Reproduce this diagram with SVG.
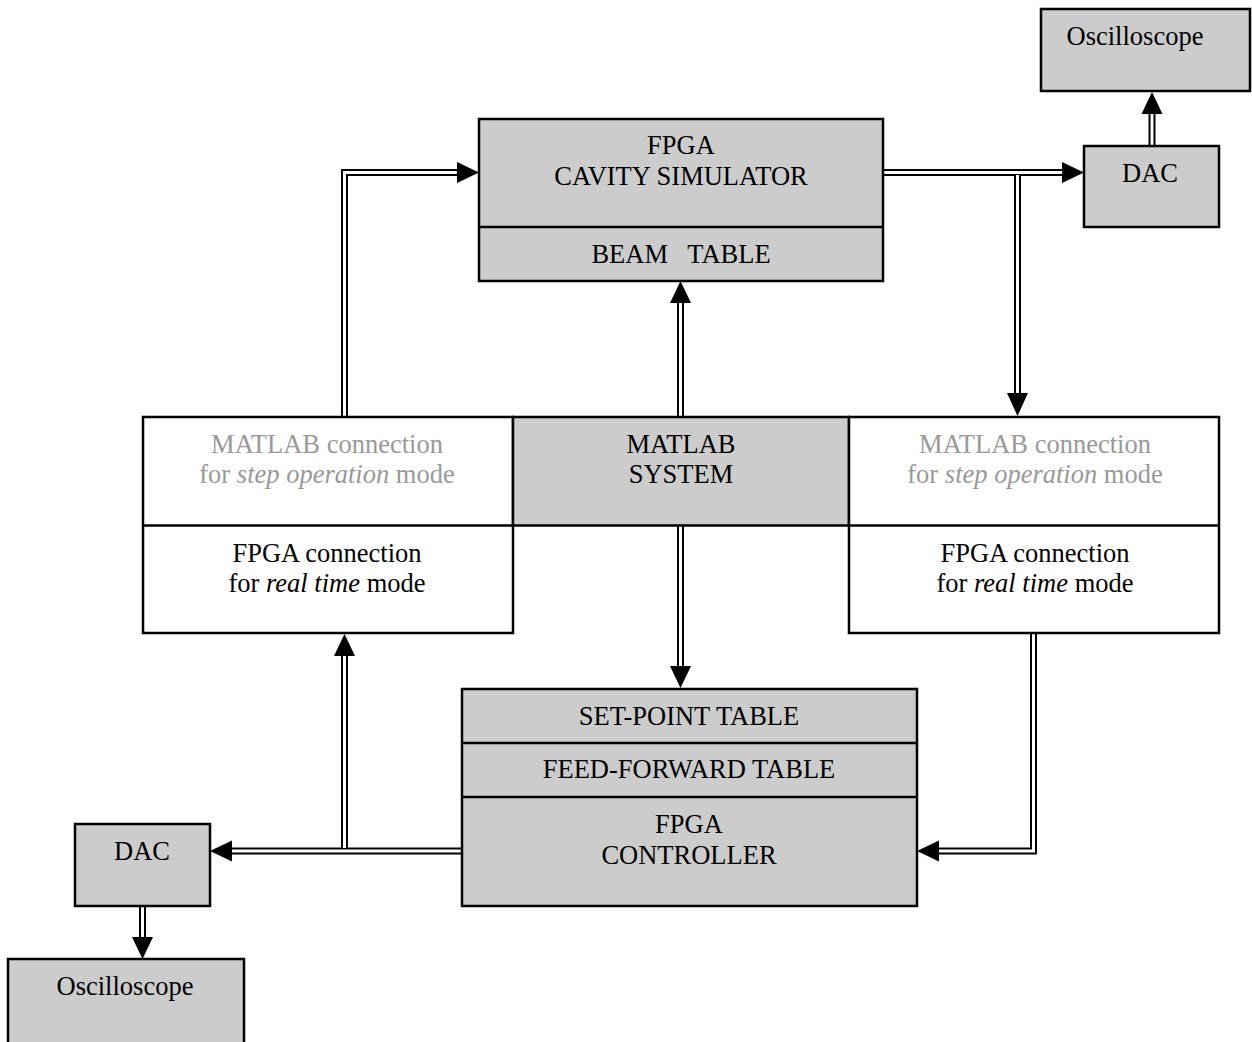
<svg xmlns="http://www.w3.org/2000/svg" width="1252" height="1042" viewBox="0 0 1252 1042">
<defs>
<style>
.box{stroke:#000;stroke-width:2.5}
.g{fill:#cccccc}
.w{fill:#ffffff}
.div{stroke:#000;stroke-width:2.5}
text{font-family:"Liberation Serif","Times New Roman",serif;font-size:26.5px;fill:#000;text-anchor:middle}
.grey{fill:#999999}
.outer{fill:none;stroke:#000;stroke-width:7;stroke-linejoin:miter}
.inner{fill:none;stroke:#fff;stroke-width:3;stroke-linejoin:miter}
.ah{fill:#000}
</style>
</defs>
<rect width="1252" height="1042" fill="#fff"/>

<g id="connectors">
<g id="c-left-up">
<path class="outer" d="M344.5,417 V172.5 H458"/>
</g>
<path class="outer" d="M883,172.5 H1063"/>
<path class="outer" d="M1017.5,175 V394"/>
<path class="outer" d="M680.5,417 V302"/>
<path class="outer" d="M680.5,525 V667"/>
<path class="outer" d="M1033.5,634 V851 H939"/>
<path class="outer" d="M462,851 H232"/>
<path class="outer" d="M344.5,848 V656"/>
<path class="outer" d="M142.5,906 V938"/>
<path class="outer" d="M1152,146 V114"/>

<path class="inner" d="M344.5,419 V172.5 H458"/>
<path class="inner" d="M884,172.5 H1063"/>
<path class="inner" d="M1017.5,175 V394"/>
<path class="inner" d="M680.5,416 V302"/>
<path class="inner" d="M680.5,526 V667"/>
<path class="inner" d="M1033.5,633 V851 H939"/>
<path class="inner" d="M461,851 H232"/>
<path class="inner" d="M344.5,848 V656"/>
<path class="inner" d="M142.5,907 V938"/>
<path class="inner" d="M1152,145 V114"/>

<polygon class="ah" points="479,172.5 457,162 457,183"/>
<polygon class="ah" points="1084,172.5 1062,162 1062,183"/>
<polygon class="ah" points="1017.5,416 1007,393 1028,393"/>
<polygon class="ah" points="680.5,281 670,303 691,303"/>
<polygon class="ah" points="680.5,688 670,666 691,666"/>
<polygon class="ah" points="917,851 939,840.5 939,861.5"/>
<polygon class="ah" points="210,851 232,840.5 232,861.5"/>
<polygon class="ah" points="344.5,634 334,656 355,656"/>
<polygon class="ah" points="142.5,959 132,937 153,937"/>
<polygon class="ah" points="1152,92 1141.5,114 1162.5,114"/>
</g>

<g id="cavity-simulator">
<rect class="box g" x="479" y="119" width="404" height="162"/>
<line class="div" x1="479" y1="227" x2="883" y2="227"/>
<text x="681" y="154">FPGA</text>
<text x="681" y="185">CAVITY SIMULATOR</text>
<text x="681" y="263" xml:space="preserve">BEAM   TABLE</text>
</g>

<g id="dac-top">
<rect class="box g" x="1084" y="146" width="135" height="81"/>
<text x="1150" y="182">DAC</text>
</g>

<g id="oscilloscope-top">
<rect class="box g" x="1041" y="9" width="209" height="82"/>
<text x="1135" y="45">Oscilloscope</text>
</g>

<g id="matlab-left">
<rect class="box w" x="143" y="417" width="370" height="216"/>
<line class="div" x1="143" y1="525.5" x2="513" y2="525.5"/>
<text class="grey" x="327" y="453">MATLAB connection</text>
<text class="grey" x="327" y="483">for <tspan font-style="italic">step operation</tspan> mode</text>
<text x="327" y="562">FPGA connection</text>
<text x="327" y="592">for <tspan font-style="italic">real time</tspan> mode</text>
</g>

<g id="matlab-system">
<rect class="box g" x="513" y="417" width="336" height="108.5"/>
<text x="681" y="453">MATLAB</text>
<text x="681" y="483">SYSTEM</text>
</g>

<g id="matlab-right">
<rect class="box w" x="849" y="417" width="370" height="216"/>
<line class="div" x1="849" y1="525.5" x2="1219" y2="525.5"/>
<text class="grey" x="1035" y="453">MATLAB connection</text>
<text class="grey" x="1035" y="483">for <tspan font-style="italic">step operation</tspan> mode</text>
<text x="1035" y="562">FPGA connection</text>
<text x="1035" y="592">for <tspan font-style="italic">real time</tspan> mode</text>
</g>

<g id="controller">
<rect class="box g" x="462" y="689" width="455" height="217"/>
<line class="div" x1="462" y1="743" x2="917" y2="743"/>
<line class="div" x1="462" y1="797" x2="917" y2="797"/>
<text x="689" y="725">SET-POINT TABLE</text>
<text x="689" y="778">FEED-FORWARD TABLE</text>
<text x="689" y="833">FPGA</text>
<text x="689" y="864">CONTROLLER</text>
</g>

<g id="dac-bottom">
<rect class="box g" x="75" y="824" width="135" height="82"/>
<text x="142" y="860">DAC</text>
</g>

<g id="oscilloscope-bottom">
<rect class="box g" x="8" y="959" width="236" height="90"/>
<text x="125" y="995">Oscilloscope</text>
</g>
</svg>
